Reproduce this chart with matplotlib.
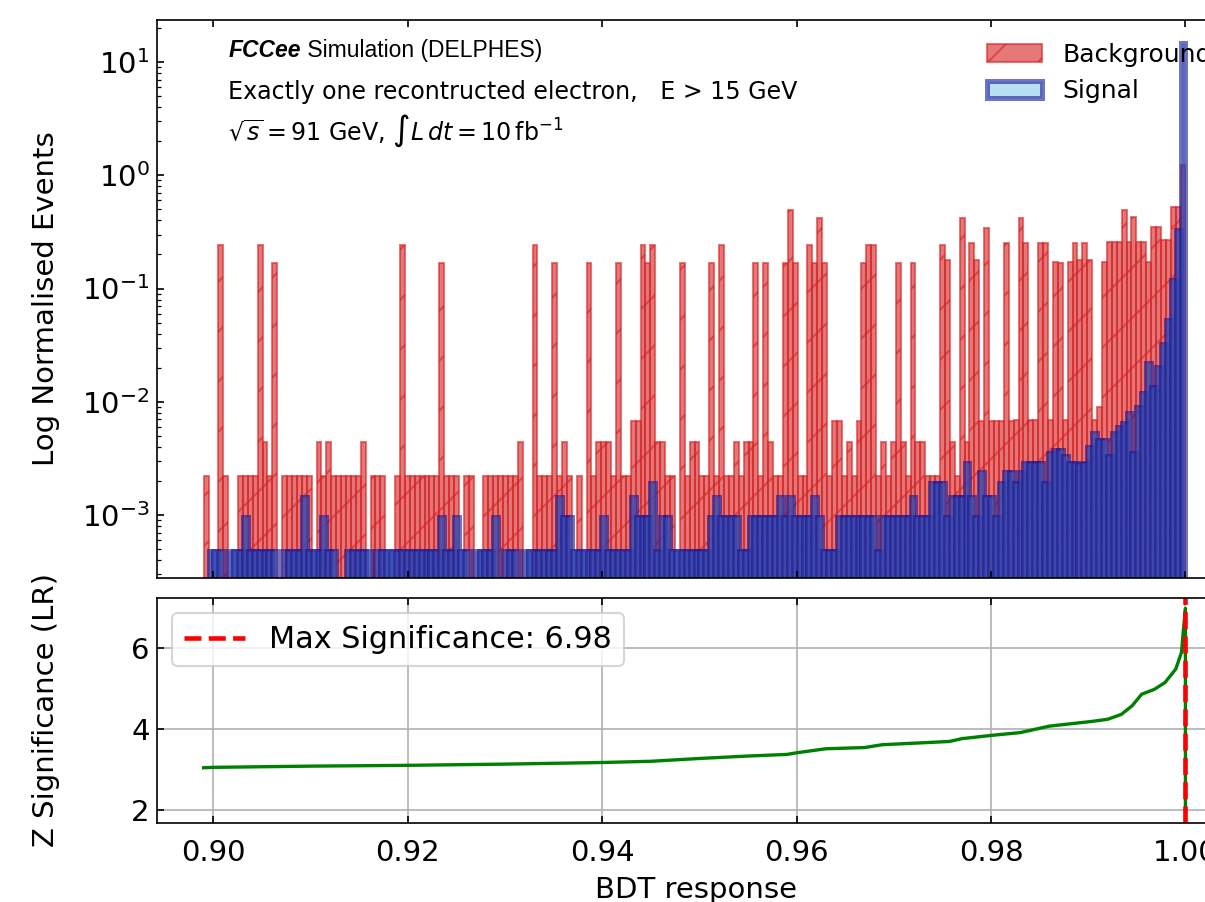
import matplotlib

matplotlib.use("Agg")
import matplotlib.pyplot as plt
import numpy as np

# ---------------------------------------------------------
# Histogram binning (200 equal bins over the BDT range shown)
# ---------------------------------------------------------
bdt_lo = 0.8990
bdt_hi = 1.0
n_bins = 200

# Normalised background per bin
bkg_heights = [
    0.0022, 0, 0, 0.241, 0.0022, 0, 0, 0.0022, 0.0022, 0.0022,
    0.0022, 0.241, 0.0044, 0.0022, 0.167, 0, 0.0022, 0.0022, 0.0022, 0.0022,
    0.0022, 0.0022, 0, 0.0044, 0.0022, 0.0044, 0.0022, 0.0022, 0.0022, 0.0022,
    0.0022, 0.0022, 0.0044, 0, 0.0022, 0.0022, 0.0022, 0, 0, 0.0022,
    0.241, 0.0022, 0.0022, 0.0022, 0.0022, 0.0022, 0.0022, 0.0022, 0.167, 0.0022,
    0.0022, 0.0022, 0, 0.0022, 0.0022, 0, 0, 0.0022, 0.0022, 0.0022,
    0.0022, 0.0022, 0.0022, 0.0022, 0.0044, 0, 0, 0.241, 0.0022, 0.0022,
    0.0022, 0.167, 0.0022, 0.0044, 0.0022, 0, 0.0022, 0, 0.167, 0.0022,
    0.0044, 0.0044, 0.0044, 0.0022, 0.167, 0.0022, 0.0022, 0.0067, 0.0067, 0.241,
    0.167, 0.241, 0.0044, 0.0044, 0.0022, 0.0022, 0, 0.167, 0.0022, 0.0044,
    0.0044, 0.0022, 0.0022, 0.167, 0.0022, 0.241, 0.0022, 0.0022, 0.0044, 0.0022,
    0.0044, 0.0044, 0.167, 0.0022, 0.167, 0.0044, 0.0022, 0.0022, 0.167, 0.49,
    0.167, 0.0022, 0.0022, 0.241, 0.167, 0.416, 0.167, 0.0022, 0.0067, 0.0067,
    0.0022, 0.0044, 0.0022, 0.0067, 0.167, 0.241, 0.241, 0.0022, 0.0044, 0.0022,
    0.0044, 0.167, 0.0044, 0.0022, 0.167, 0.0044, 0.0044, 0.0022, 0.0022, 0.0022,
    0.241, 0.178, 0.0044, 0.0022, 0.42, 0.0044, 0.25, 0.178, 0.0067, 0.34,
    0.0067, 0.0067, 0.0067, 0.25, 0.0067, 0.0069, 0.42, 0.25, 0.0069, 0.0069,
    0.25, 0.25, 0.0069, 0.172, 0.167, 0.0069, 0.172, 0.25, 0.178, 0.25,
    0.178, 0.0069, 0.009, 0.172, 0.26, 0.26, 0.26, 0.49, 0.26, 0.43,
    0.26, 0.26, 0.172, 0.35, 0.35, 0.27, 0.27, 0.53, 0.53, 1.23,
]

# Normalised signal per bin
sig_heights = [
    0, 0.00048, 0.00048, 0.00048, 0, 0.00048, 0.00048, 0.00048, 0.00096, 0.00048,
    0.00048, 0.00048, 0.00048, 0.00048, 0.00048, 0, 0.00048, 0.00048, 0.00048, 0.00048,
    0.00144, 0.00048, 0.00048, 0.00048, 0.00096, 0.00048, 0.00048, 0, 0, 0.00048,
    0.00048, 0.00048, 0.00048, 0.00048, 0, 0.00048, 0.00048, 0.00048, 0.00048, 0.00048,
    0.00048, 0.00048, 0.00048, 0.00048, 0.00048, 0.00048, 0.00048, 0.00048, 0.00096, 0.00048,
    0.00048, 0.00096, 0.00048, 0.00048, 0, 0.00048, 0.00048, 0.00048, 0.00048, 0.00096,
    0, 0.00048, 0.00048, 0.00048, 0, 0.00048, 0.00048, 0.00048, 0.00048, 0.00048,
    0.00048, 0.00048, 0.00144, 0.00096, 0.00096, 0.00048, 0.00048, 0.00048, 0.00048, 0.00048,
    0.00048, 0.00096, 0.00048, 0.00048, 0.00048, 0.00048, 0.00048, 0.00144, 0.00096, 0.00096,
    0.00096, 0.00192, 0.00048, 0.00096, 0.00096, 0.00048, 0.00048, 0.00048, 0.00048, 0.00048,
    0.00048, 0.00048, 0.00048, 0.00096, 0.00144, 0.00096, 0.00096, 0.00096, 0.00096, 0.00048,
    0.00048, 0.00096, 0.00096, 0.00096, 0.00096, 0.00096, 0.00096, 0.00144, 0.00096, 0.00144,
    0.00096, 0.00096, 0.00096, 0.00096, 0.00144, 0.00096, 0.00048, 0.00048, 0.00048, 0.00096,
    0.00096, 0.00096, 0.00096, 0.00096, 0.00096, 0.00096, 0.00096, 0.00048, 0.00096, 0.00096,
    0.00096, 0.00096, 0.00096, 0.00096, 0.00144, 0.00096, 0.00096, 0.00096, 0.00192, 0.00192,
    0.00192, 0.00096, 0.00144, 0.00144, 0.00144, 0.00288, 0.00144, 0.00096, 0.0024, 0.00144,
    0.00144, 0.00096, 0.00192, 0.0024, 0.0024, 0.00192, 0.0024, 0.00288, 0.00288, 0.00288,
    0.00288, 0.00192, 0.0035, 0.00375, 0.00375, 0.0033, 0.0029, 0.0029, 0.0028, 0.0029,
    0.004, 0.0053, 0.0046, 0.0046, 0.0033, 0.0053, 0.006, 0.0065, 0.0079, 0.0035,
    0.009, 0.0119, 0.0218, 0.0136, 0.0204, 0.0327, 0.0526, 0.119, 0.33, 14.7,
]

# Significance scan (cut value -> Z)
z_cut = [0.899, 0.900, 0.910, 0.920, 0.930, 0.940, 0.945, 0.950, 0.955, 0.959,
         0.960, 0.963, 0.967, 0.9688, 0.9757, 0.977, 0.980, 0.983, 0.9845, 0.986,
         0.9905, 0.992, 0.9934, 0.9945, 0.9955, 0.9968, 0.9979, 0.9990, 0.9996,
         0.9998, 1.0, 1.0]
z_val = [3.04, 3.05, 3.08, 3.10, 3.13, 3.17, 3.20, 3.27, 3.33, 3.37,
         3.41, 3.51, 3.54, 3.61, 3.69, 3.76, 3.84, 3.91, 3.99, 4.07,
         4.19, 4.24, 4.36, 4.57, 4.86, 4.98, 5.15, 5.48, 5.90,
         6.47, 6.98, 0.0]
best_cut = 1.0
best_z = 6.98

# ---------------------------------------------------------
# Figure
# ---------------------------------------------------------
plt.rcParams["xtick.direction"] = "in"
plt.rcParams["ytick.direction"] = "in"
plt.rcParams["xtick.top"] = True
plt.rcParams["ytick.right"] = True

fig = plt.figure(figsize=(1205 / 150, 902 / 150), dpi=150)
# the original axes run past the right edge of the saved picture
ax1 = fig.add_axes([0.1303, 0.3592, 0.8938, 0.6186])
ax2 = fig.add_axes([0.1303, 0.0879, 0.8938, 0.2491], sharex=ax1)

edges = np.linspace(bdt_lo, bdt_hi, n_bins + 1)
centers = 0.5 * (edges[1:] + edges[:-1])

ax1.hist(
    centers,
    bins=edges,
    weights=bkg_heights,
    histtype="bar",
    color="#d62728",
    edgecolor="#d62728",
    alpha=0.62,
    linewidth=1.0,
    hatch="/",
    label="Background",
    log=True,
)
ax1.hist(
    centers,
    bins=edges,
    weights=sig_heights,
    histtype="bar",
    facecolor="skyblue",
    edgecolor="#14189a",
    alpha=0.6,
    linewidth=2.4,
    label="Signal",
    log=True,
)

ax1.set_yscale("log")
ax1.set_ylim(2.78e-4, 23.5)
ax1.set_xlim(0.8942, 1.0050)
ax1.set_ylabel("Log Normalised Events", fontsize=14)
ax1.tick_params(axis="both", which="major", labelsize=14)
ax1.tick_params(labelbottom=False)
ax1.legend(loc="upper right", fontsize=12, frameon=False, handlelength=2.2)

ax1.text(0.066, 0.946, "FCCee", transform=ax1.transAxes, fontsize=11,
         fontweight="bold", style="italic", family="Liberation Sans", va="center")
ax1.annotate(" Simulation (DELPHES)", xy=(1, 0.5), xycoords=ax1.texts[0],
             fontsize=11, family="Liberation Sans", va="center")
ax1.text(0.066, 0.871, "Exactly one recontructed electron,   E > 15 GeV",
         transform=ax1.transAxes, fontsize=11.4, va="center")
ax1.text(0.066, 0.801, r"$\sqrt{s} = 91$ GeV, $\int L\,dt = 10\,\mathrm{fb}^{-1}$",
         transform=ax1.transAxes, fontsize=11.4, va="center")

# significance panel
ax2.plot(z_cut, z_val, color="green", linewidth=1.6)
ax2.axvline(best_cut, color="red", linestyle="--", linewidth=2.2,
            label=f"Max Significance: {best_z:.2f}")
ax2.set_ylim(1.68, 7.24)
ax2.set_yticks([2, 4, 6])
ax2.set_xticks([0.90, 0.92, 0.94, 0.96, 0.98, 1.00])
ax2.grid(True)
ax2.set_xlabel("BDT response", fontsize=14)
ax2.set_ylabel("Z Significance (LR)", fontsize=14)
ax2.tick_params(axis="both", labelsize=14)
ax2.tick_params(axis="x", pad=8)
ax2.legend(loc="upper left", fontsize=14.5)

ax1.yaxis.set_label_coords(-0.09, 0.5)
ax2.yaxis.set_label_coords(-0.09, 0.5)

fig.savefig("out.png", dpi=150)
